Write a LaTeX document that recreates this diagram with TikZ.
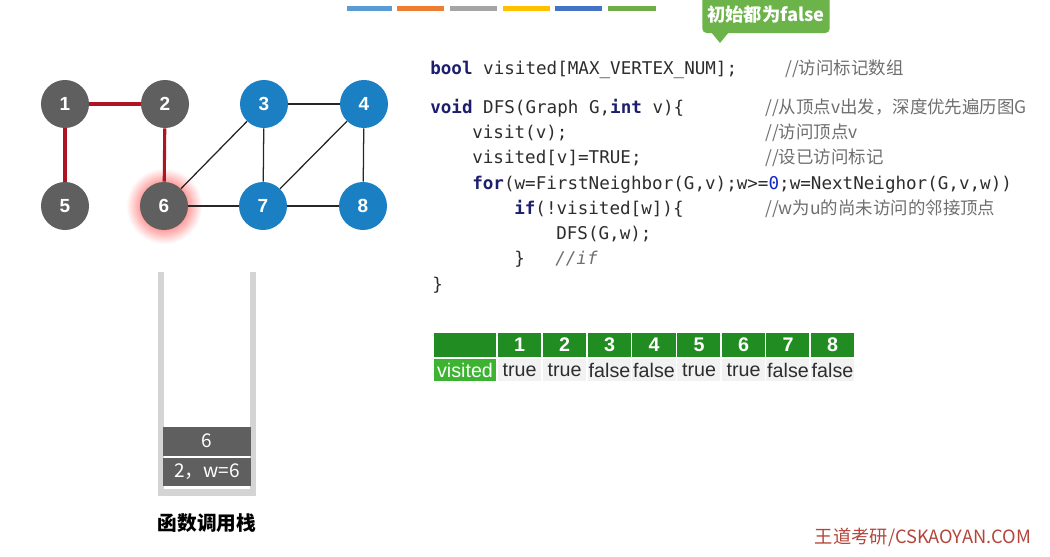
\documentclass[tikz,border=0pt]{standalone}
\usepackage{fontspec}
\setmainfont{Liberation Sans}
\newfontfamily\cjk{Noto Sans CJK SC}
\newfontfamily\codefont{DejaVu Sans Mono}
\usetikzlibrary{positioning}
\definecolor{nodegray}{RGB}{95,95,95}
\definecolor{nodeblue}{RGB}{27,128,195}
\definecolor{redline}{RGB}{175,20,35}
\definecolor{codegray}{RGB}{45,45,45}
\definecolor{kwblue}{RGB}{30,30,110}
\definecolor{numblue}{RGB}{20,40,200}
\definecolor{notegray}{RGB}{110,110,110}
\definecolor{headgreen}{RGB}{33,140,33}
\definecolor{markgreen}{RGB}{60,180,50}
\definecolor{cellgray}{RGB}{242,242,242}
\definecolor{bargray}{RGB}{212,212,212}
\definecolor{hintgreen}{RGB}{108,179,74}
\definecolor{wmred}{RGB}{181,68,58}
\newcommand{\kw}[1]{\textbf{\color{kwblue}#1}}

\begin{document}
\begin{tikzpicture}[x=0.025cm, y=-0.025cm,
    vtx/.style={circle, minimum size=1.2cm, inner sep=0, text=white, font=\bfseries\fontsize{13.5}{13.5}\selectfont},
    seen/.style={vtx, fill=nodegray},
    unseen/.style={vtx, fill=nodeblue},
    tree/.style={draw=redline, line width=2.2pt},
    link/.style={draw=black!85, line width=0.9pt},
    code/.style={anchor=base west, inner sep=0, font=\codefont\fontsize{12.5}{14}\selectfont, text=codegray},
    note/.style={anchor=base west, inner sep=0, font=\cjk\fontsize{12.4}{14}\selectfont, text=notegray},
    cell/.style={draw=white, line width=1pt, minimum width=1.12cm, inner sep=0, font=\fontsize{14}{14}\selectfont},
    num/.style={cell, fill=headgreen, text=white, minimum height=0.65cm, font=\bfseries\fontsize{14}{14}\selectfont},
    val/.style={cell, fill=cellgray, text=codegray, minimum height=0.6cm},
    frame/.style={fill=nodegray, text=white, minimum width=2.2cm, minimum height=0.72cm, inner sep=0, font=\cjk\fontsize{13.5}{13.5}\selectfont}
]
    \useasboundingbox (0,0) rectangle (1050,557);

    \fill[fill={rgb,255:red,91;green,155;blue,213}] (347,6) rectangle (392,11);
    \fill[fill={rgb,255:red,237;green,125;blue,49}] (397,6) rectangle (444,11);
    \fill[fill={rgb,255:red,165;green,165;blue,165}] (450,6) rectangle (497,11);
    \fill[fill={rgb,255:red,255;green,192;blue,0}] (503,6) rectangle (550,11);
    \fill[fill={rgb,255:red,68;green,114;blue,196}] (555,6) rectangle (602,11);
    \fill[fill={rgb,255:red,112;green,173;blue,71}] (608,6) rectangle (656,11);

    \node[fill=hintgreen, text=white, rounded corners=3pt, minimum width=3.18cm, minimum height=0.95cm, inner sep=0, font=\cjk\bfseries\fontsize{13}{13}\selectfont] (hint) at (766,14) {初始都为false};
    \fill[hintgreen] (711,32) -- (729,32) -- (720,43) -- cycle;

    \shade[inner color=red, outer color=white] (164,206) circle (0.95cm);

    \node[seen] (v1) at (65,104) {1};
    \node[seen] (v2) at (165,104) {2};
    \node[unseen] (v3) at (264,104) {3};
    \node[unseen] (v4) at (364,104) {4};
    \node[seen] (v5) at (65,206) {5};
    \node[seen] (v6) at (164,206) {6};
    \node[unseen] (v7) at (263,206) {7};
    \node[unseen] (v8) at (363,206) {8};

    \draw[tree] (v1) -- (v2);
    \draw[tree] (v1) -- (v5);
    \draw[tree] (v2) -- (v6);
    \draw[link] (v3) -- (v4);
    \draw[link] (v3) -- (v7);
    \draw[link] (v4) -- (v7);
    \draw[link] (v4) -- (v8);
    \draw[link] (v6) -- (v3);
    \draw[link] (v6) -- (v7);
    \draw[link] (v7) -- (v8);

    \fill[bargray] (158,272) rectangle (164,496);
    \fill[bargray] (250,272) rectangle (256,496);
    \fill[bargray] (158,489) rectangle (256,496);
    \node[frame] (caller) at (207,472) {2，w=6};
    \node[frame, above=1pt of caller] (callee) {6};
    \node[font=\cjk\bfseries\fontsize{14}{14}\selectfont, below=0.55cm of caller] (stack) {函数调用栈};

    \node[code] (decl) at (430,75) {\kw{bool} visited[MAX\_VERTEX\_NUM];};
    \node[note] (declnote) at (785,75) {//访问标记数组};
    \node[code] (head) at (430,114) {\kw{void} DFS(Graph G,\kw{int} v)\{};
    \node[note] (headnote) at (765,114) {//从顶点v出发，深度优先遍历图G};
    \node[code] (visit) at (472,139) {visit(v);};
    \node[note] (visitnote) at (765,139) {//访问顶点v};
    \node[code] (mark) at (472,164) {visited[v]=TRUE;};
    \node[note] (marknote) at (765,164) {//设已访问标记};
    \node[code] (loop) at (472,190) {\kw{for}(w=FirstNeighbor(G,v);w>=\textcolor{numblue}{0};w=NextNeighor(G,v,w))};
    \node[code] (test) at (514,215) {\kw{if}(!visited[w])\{};
    \node[note] (testnote) at (765,215) {//w为u的尚未访问的邻接顶点};
    \node[code] (call) at (556,240) {DFS(G,w);};
    \node[code] (close) at (514,265) {\}};
    \node[code, text=notegray, font=\codefont\itshape\fontsize{12.5}{14}\selectfont] (closenote) at (555,265) {//if};
    \node[code] (end) at (432,290) {\}};

    \node[cell, fill=headgreen, minimum width=1.6cm, minimum height=0.65cm] (corner) at (465,345) {};
    \node[num] (n1) at (519.5,345) {1};
    \node[num] (n2) at (564.5,345) {2};
    \node[num] (n3) at (609.5,345) {3};
    \node[num] (n4) at (654,345) {4};
    \node[num] (n5) at (699,345) {5};
    \node[num] (n6) at (743.5,345) {6};
    \node[num] (n7) at (788,345) {7};
    \node[num] (n8) at (832.5,345) {8};
    \node[cell, fill=markgreen, text=white, minimum width=1.6cm, minimum height=0.6cm] (label) at (465,370) {visited};
    \node[val] (s1) at (519.5,370) {true};
    \node[val] (s2) at (564.5,370) {true};
    \node[val] (s3) at (609.5,370) {false};
    \node[val] (s4) at (654,370) {false};
    \node[val] (s5) at (699,370) {true};
    \node[val] (s6) at (743.5,370) {true};
    \node[val] (s7) at (788,370) {false};
    \node[val] (s8) at (832.5,370) {false};

    \node[font=\cjk\fontsize{13}{13}\selectfont, text=wmred] (site) at (923,537) {王道考研/CSKAOYAN.COM};
\end{tikzpicture}
\end{document}
